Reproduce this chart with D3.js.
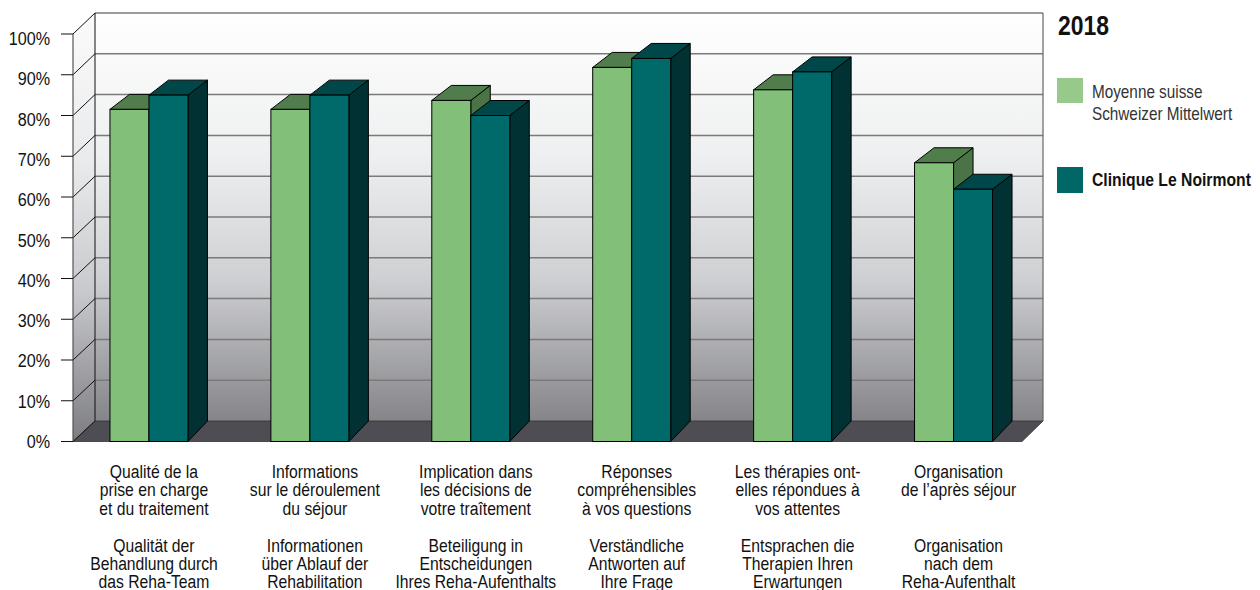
<!DOCTYPE html>
<html>
<head>
<meta charset="utf-8">
<script src="https://cdn.jsdelivr.net/npm/d3@7"></script>
<style>
  body { margin: 0; background: #fff; }
  text { font-family: "Liberation Sans", Arial, sans-serif; fill: #111; }
</style>
</head>
<body>
<div id="chart"></div>
<script>
//data
var categories = ["c1", "c2", "c3", "c4", "c5", "c6"];
var labelsFr = [
  ["Qualité de la", "prise en charge", "et du traitement"],
  ["Informations", "sur le déroulement", "du séjour"],
  ["Implication dans", "les décisions de", "votre traîtement"],
  ["Réponses", "compréhensibles", "à vos questions"],
  ["Les thérapies ont-", "elles répondues à", "vos attentes"],
  ["Organisation", "de l’après séjour"]
];
var labelsDe = [
  ["Qualität der", "Behandlung durch", "das Reha-Team"],
  ["Informationen", "über Ablauf der", "Rehabilitation"],
  ["Beteiligung in", "Entscheidungen", "Ihres Reha-Aufenthalts"],
  ["Verständliche", "Antworten auf", "Ihre Frage"],
  ["Entsprachen die", "Therapien Ihren", "Erwartungen"],
  ["Organisation", "nach dem", "Reha-Aufenthalt"]
];
var moyenne = [81.5, 81.5, 83.7, 91.8, 86.3, 68.4];
var noirmont = [85.0, 85.0, 80.0, 94.0, 90.7, 61.9];
var seriesNames = ["Moyenne suisse|Schweizer Mittelwert", "Clinique Le Noirmont"];
var ticks = [0, 10, 20, 30, 40, 50, 60, 70, 80, 90, 100];

var width = 1260, height = 590;
var narrow = 0.85; //squeeze Liberation Sans to look like a condensed face

//front plane and back wall scales
var yFront = d3.scaleLinear().domain([0, 100]).range([441.5, 34]);
var yBack = d3.scaleLinear().domain([0, 100]).range([421, 13]);
var yLabel = d3.scaleLinear().domain([0, 100]).range([441.5, 38.5]);
var xFront0 = 73, xBack0 = 95, xFront1 = 1022, xBack1 = 1043;

var x = d3.scaleBand().domain(categories).range([68.5, 1034]);
var xs = d3.scaleBand().domain([0, 1]).range([0, 78]);

var svg = d3.select("#chart").append("svg")
    .attr("width", width)
    .attr("height", height);

//condensed text helper
function ntext(g, x0, y0, lines, size, lh, anchor, weight, fill) {
  var t = g.append("text")
      .attr("transform", "translate(" + x0 + "," + y0 + ") scale(" + narrow + ",1)")
      .attr("text-anchor", anchor || "start")
      .style("font-size", size + "px");
  if (weight) t.style("font-weight", weight);
  if (fill) t.style("fill", fill);
  lines.forEach(function (s, k) {
    t.append("tspan").attr("x", 0).attr("y", k * lh).text(s);
  });
  return t;
}

var defs = svg.append("defs");
var grad = defs.append("linearGradient").attr("id", "wall")
    .attr("x1", 0).attr("y1", 0).attr("x2", 0).attr("y2", 1);
[[0, "#ffffff"], [0.35, "#eeeff0"], [0.65, "#cfd0d3"], [1, "#848489"]].forEach(function (s) {
  grad.append("stop").attr("offset", s[0]).attr("stop-color", s[1]);
});
var grad2 = defs.append("linearGradient").attr("id", "side")
    .attr("x1", 0).attr("y1", 0).attr("x2", 0).attr("y2", 1);
[[0, "#fbfbfb"], [0.35, "#e9eaec"], [0.65, "#c8c9cc"], [1, "#7c7c81"]].forEach(function (s) {
  grad2.append("stop").attr("offset", s[0]).attr("stop-color", s[1]);
});

//back wall
svg.append("rect")
    .attr("x", xBack0).attr("y", yBack(100))
    .attr("width", xBack1 - xBack0).attr("height", yBack(0) - yBack(100))
    .attr("fill", "url(#wall)");

//left side wall
svg.append("path")
    .attr("d", "M" + xFront0 + "," + yFront(100) + "L" + xBack0 + "," + yBack(100) +
      "L" + xBack0 + "," + yBack(0) + "L" + xFront0 + "," + yFront(0) + "Z")
    .attr("fill", "url(#side)");

//floor
svg.append("path")
    .attr("d", "M" + xFront0 + "," + yFront(0) + "L" + xFront1 + "," + yFront(0) +
      "L" + xBack1 + "," + yBack(0) + "L" + xBack0 + "," + yBack(0) + "Z")
    .attr("fill", "#4e4d53")
    .attr("stroke", "#333")
    .attr("stroke-width", 0.8);

//gridlines on back wall
svg.append("g").selectAll("line.grid")
    .data(ticks.filter(function (t) { return t > 0; }))
    .enter().append("line")
    .attr("x1", xBack0).attr("x2", xBack1)
    .attr("y1", function (d) { return yBack(d); })
    .attr("y2", function (d) { return yBack(d); })
    .attr("stroke", "#7a7a7a")
    .attr("stroke-width", 1.5);

//diagonals on side wall
svg.append("g").selectAll("line.diag")
    .data(ticks)
    .enter().append("line")
    .attr("x1", xFront0).attr("x2", xBack0)
    .attr("y1", function (d) { return yFront(d); })
    .attr("y2", function (d) { return yBack(d); })
    .attr("stroke", "#111")
    .attr("stroke-width", 1);

svg.append("line")
    .attr("x1", xBack0).attr("x2", xBack0)
    .attr("y1", yBack(100)).attr("y2", yBack(0))
    .attr("stroke", "#111");
svg.append("line")
    .attr("x1", xBack1).attr("x2", xBack1)
    .attr("y1", yBack(100)).attr("y2", yBack(0))
    .attr("stroke", "#666").attr("stroke-width", 1.2);

//front axis
svg.append("line")
    .attr("x1", xFront0).attr("x2", xFront0)
    .attr("y1", yFront(100)).attr("y2", yFront(0))
    .attr("stroke", "#555").attr("stroke-width", 1.2);
svg.append("g").selectAll("line.tick")
    .data(ticks)
    .enter().append("line")
    .attr("x1", 61).attr("x2", xFront0)
    .attr("y1", function (d) { return yFront(d); })
    .attr("y2", function (d) { return yFront(d); })
    .attr("stroke", "#111");
var axisLab = svg.append("g");
ticks.forEach(function (d) {
  ntext(axisLab, 50, yLabel(d) + 6.5, [d + "%"], 19, 0, "end");
});

//bars
var barDx = 19.5, barDyTop = -15, barDyBase = yBack(0) - yFront(0);
var colors = [
  { front: "#82c07a", top: "#517c4b", side: "#4a7445" },
  { front: "#006969", top: "#00474a", side: "#013133" }
];

function drawBar(g, x0, w, v, c) {
  var yt = yFront(v), yb = yFront(0);
  g.append("path")
    .attr("d", "M" + (x0 + w) + "," + yt + "L" + (x0 + w + barDx) + "," + (yt + barDyTop) +
      "L" + (x0 + w + barDx) + "," + (yb + barDyBase) + "L" + (x0 + w) + "," + yb + "Z")
    .attr("fill", c.side).attr("stroke", "#000").attr("stroke-width", 1);
  g.append("path")
    .attr("d", "M" + x0 + "," + yt + "L" + (x0 + barDx) + "," + (yt + barDyTop) +
      "L" + (x0 + w + barDx) + "," + (yt + barDyTop) + "L" + (x0 + w) + "," + yt + "Z")
    .attr("fill", c.top).attr("stroke", "#000").attr("stroke-width", 1);
  g.append("rect")
    .attr("x", x0).attr("y", yt)
    .attr("width", w).attr("height", yb - yt)
    .attr("fill", c.front).attr("stroke", "#000").attr("stroke-width", 1);
}

var bars = svg.append("g");
categories.forEach(function (cat, i) {
  var left = x(cat) + x.bandwidth() / 2 - 39;
  drawBar(bars, left + xs(0), xs.bandwidth(), moyenne[i], colors[0]);
  drawBar(bars, left + xs(1), xs.bandwidth(), noirmont[i], colors[1]);
});

//category labels
var lab = svg.append("g");
categories.forEach(function (cat, i) {
  var cx = x(cat) + x.bandwidth() / 2 + 5;
  ntext(lab, cx, 478, labelsFr[i], 18.5, 18.3, "middle");
  ntext(lab, cx, 551.5, labelsDe[i], 18.5, 18.3, "middle");
});

//legend
var leg = svg.append("g");
ntext(leg, 1058, 35, ["2018"], 27, 0, "start", "bold");
leg.append("rect").attr("x", 1057).attr("y", 78).attr("width", 26).attr("height", 25)
    .attr("fill", "#97c98b");
ntext(leg, 1092, 98, seriesNames[0].split("|"), 18, 22.5, "start", null, "#333");
leg.append("rect").attr("x", 1057).attr("y", 167).attr("width", 26).attr("height", 26)
    .attr("fill", "#006666");
ntext(leg, 1092, 186, [seriesNames[1]], 18.5, 0, "start", "bold");
</script>
</body>
</html>
